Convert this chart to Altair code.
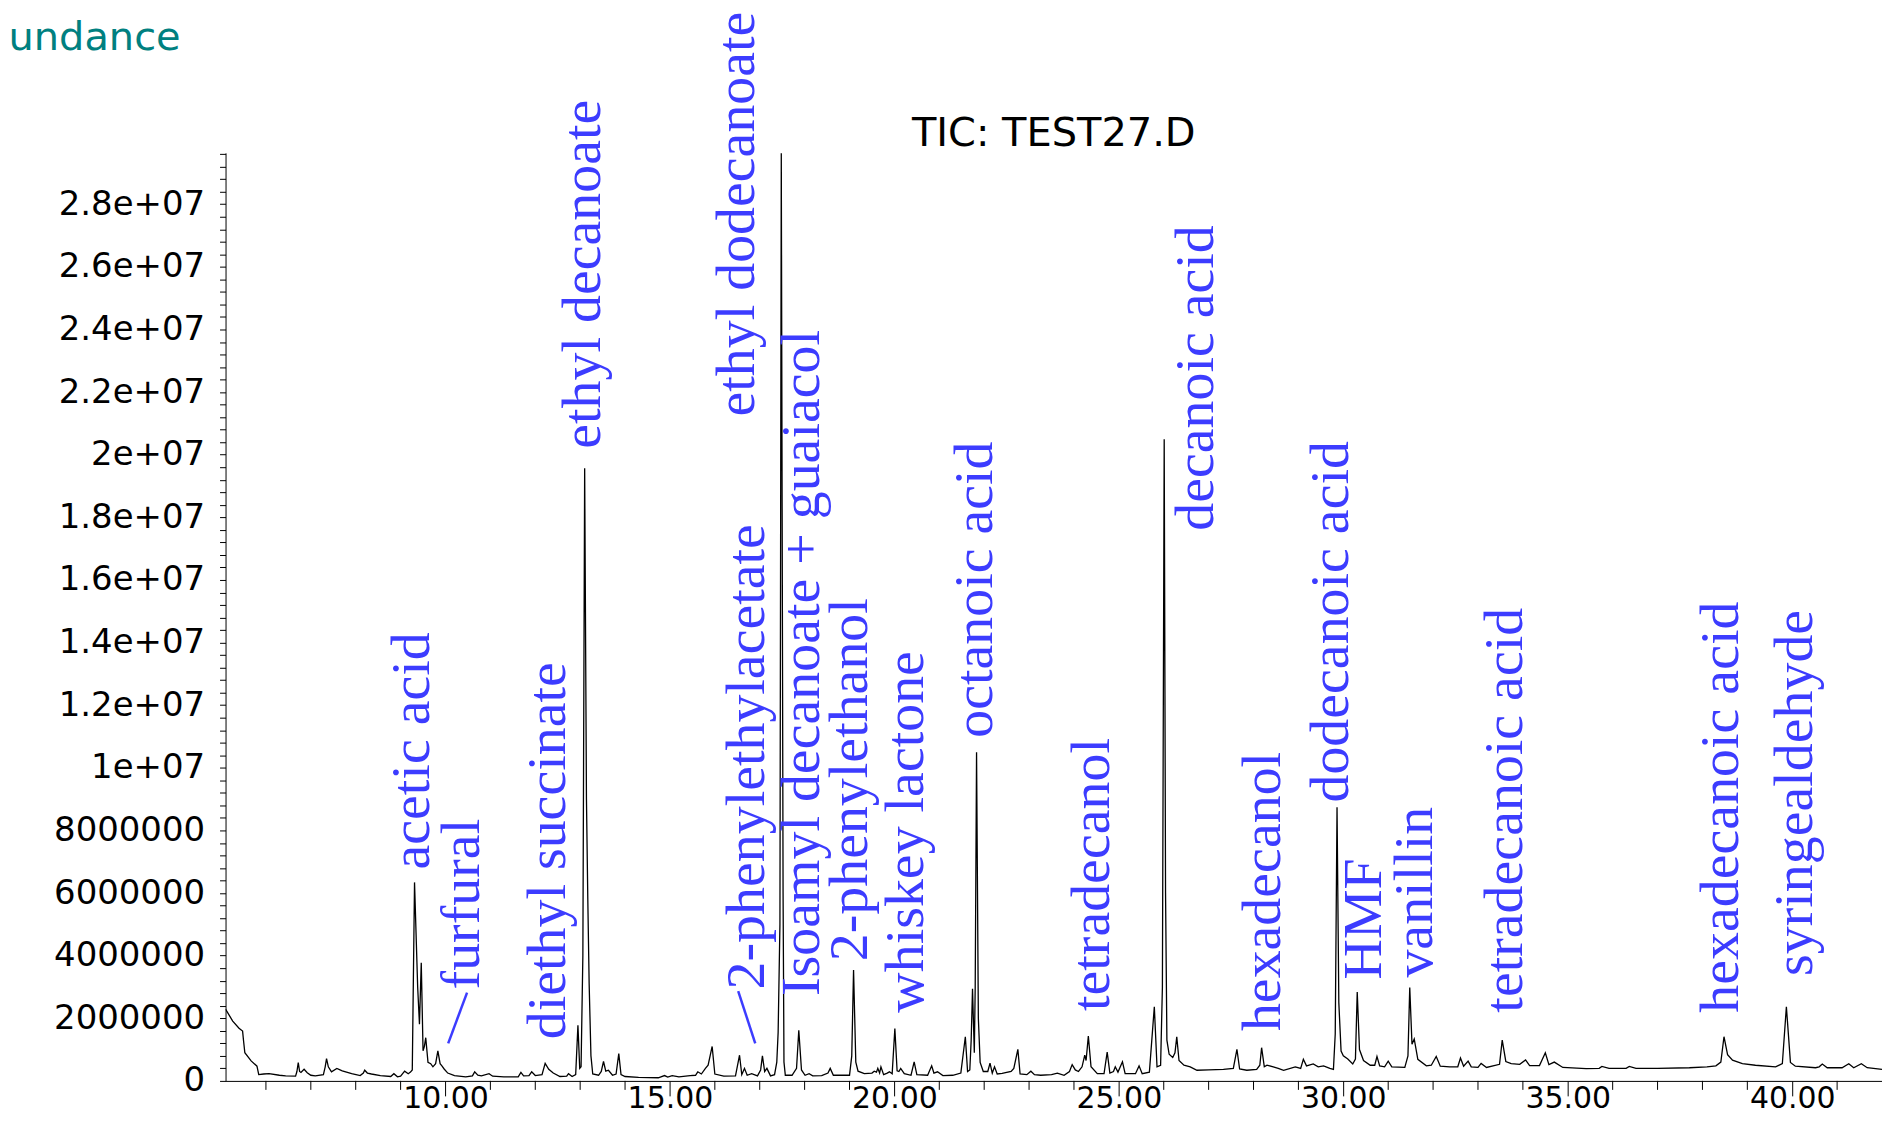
import altair as alt
import pandas as pd

# ---- chromatogram trace: retention time (min) and abundance (millions) ----
times = [
    5.10, 5.26, 5.40, 5.48, 5.50, 5.53, 5.67, 5.80, 5.84, 5.95, 6.07, 6.30, 6.44, 6.66, 6.69, 6.72,
    6.75, 6.78, 6.85, 6.92, 7.00, 7.10, 7.28, 7.32, 7.35, 7.39, 7.46, 7.58, 7.70, 7.91, 8.10, 8.17,
    8.20, 8.26, 8.35, 8.55, 8.78, 8.85, 8.93, 9.00, 9.09, 9.17, 9.22, 9.26, 9.31, 9.38, 9.42, 9.46,
    9.50, 9.53, 9.56, 9.61, 9.67, 9.72, 9.78, 9.83, 9.88, 9.92, 9.97, 10.05, 10.20, 10.45, 10.60, 10.65,
    10.72, 10.80, 10.97, 11.05, 11.30, 11.62, 11.68, 11.74, 11.86, 11.92, 12.00, 12.15, 12.22, 12.30, 12.40, 12.55,
    12.70, 12.74, 12.82, 12.90, 12.95, 12.99, 13.02, 13.06, 13.10, 13.14, 13.17, 13.20, 13.24, 13.28, 13.41, 13.47,
    13.52, 13.57, 13.63, 13.72, 13.80, 13.86, 13.91, 14.00, 14.30, 14.74, 14.88, 14.95, 15.05, 15.20, 15.45, 15.57,
    15.62, 15.70, 15.79, 15.85, 15.94, 16.00, 16.20, 16.46, 16.55, 16.60, 16.66, 16.72, 16.82, 16.95, 17.02, 17.06,
    17.11, 17.16, 17.24, 17.33, 17.38, 17.41, 17.45, 17.48, 17.52, 17.54, 17.57, 17.72, 17.82, 17.87, 17.93, 18.01,
    18.10, 18.18, 18.38, 18.52, 18.57, 18.64, 19.00, 19.05, 19.09, 19.14, 19.19, 19.33, 19.50, 19.55, 19.60, 19.63,
    19.67, 19.70, 19.76, 19.84, 19.89, 19.95, 20.01, 20.06, 20.10, 20.14, 20.22, 20.37, 20.44, 20.50, 20.74, 20.83,
    20.88, 20.96, 21.08, 21.30, 21.48, 21.58, 21.63, 21.68, 21.71, 21.74, 21.78, 21.80, 21.83, 21.87, 21.91, 21.98,
    22.08, 22.13, 22.18, 22.23, 22.29, 22.40, 22.60, 22.66, 22.75, 22.80, 22.95, 23.04, 23.12, 23.26, 23.50, 23.63,
    23.78, 23.90, 23.96, 24.03, 24.10, 24.18, 24.24, 24.27, 24.32, 24.38, 24.52, 24.67, 24.74, 24.80, 24.88, 24.92,
    24.98, 25.08, 25.14, 25.37, 25.45, 25.52, 25.68, 25.79, 25.85, 25.93, 25.97, 26.01, 26.04, 26.07, 26.12, 26.20,
    26.25, 26.29, 26.34, 26.45, 26.59, 26.74, 27.00, 27.33, 27.55, 27.63, 27.69, 27.85, 28.07, 28.14, 28.18, 28.24,
    28.30, 28.44, 28.55, 28.67, 28.93, 29.05, 29.11, 29.18, 29.33, 29.44, 29.56, 29.70, 29.78, 29.82, 29.86, 29.90,
    29.95, 30.00, 30.10, 30.21, 30.27, 30.31, 30.36, 30.45, 30.60, 30.70, 30.75, 30.81, 30.92, 31.00, 31.08, 31.37,
    31.44, 31.48, 31.53, 31.58, 31.66, 31.85, 31.96, 32.07, 32.16, 32.37, 32.55, 32.61, 32.68, 32.78, 32.85, 33.00,
    33.07, 33.19, 33.48, 33.54, 33.62, 33.74, 33.93, 34.06, 34.15, 34.37, 34.50, 34.58, 34.70, 34.89, 35.41, 35.70,
    35.76, 35.92, 36.30, 36.37, 36.52, 37.00, 37.71, 38.10, 38.30, 38.41, 38.48, 38.56, 38.67, 38.89, 39.18, 39.63,
    39.78, 39.87, 39.96, 40.07, 40.52, 40.60, 40.67, 40.78, 41.11, 41.26, 41.37, 41.54, 41.67, 42.00,
]
abund_millions = [
    2.29, 1.91, 1.68, 1.59, 1.30, 0.90, 0.64, 0.47, 0.20, 0.22, 0.23, 0.18, 0.16, 0.15, 0.30, 0.585,
    0.30, 0.27, 0.37, 0.26, 0.18, 0.16, 0.20, 0.45, 0.71, 0.45, 0.29, 0.40, 0.32, 0.23, 0.17, 0.25,
    0.34, 0.25, 0.22, 0.17, 0.14, 0.23, 0.13, 0.15, 0.31, 0.23, 0.28, 0.35, 6.34, 3.00, 1.81, 3.77,
    0.96, 1.10, 1.38, 0.59, 0.55, 0.45, 0.55, 0.96, 0.55, 0.48, 0.38, 0.25, 0.17, 0.13, 0.16, 0.29,
    0.18, 0.16, 0.23, 0.15, 0.13, 0.13, 0.27, 0.16, 0.17, 0.29, 0.17, 0.20, 0.56, 0.37, 0.25, 0.14,
    0.15, 0.23, 0.14, 0.20, 1.78, 0.40, 0.45, 4.00, 19.57, 9.00, 5.80, 3.10, 0.80, 0.22, 0.18, 0.30,
    0.62, 0.31, 0.34, 0.18, 0.22, 0.87, 0.20, 0.14, 0.11, 0.10, 0.17, 0.12, 0.17, 0.13, 0.17, 0.18,
    0.29, 0.22, 0.40, 0.50, 1.10, 0.22, 0.15, 0.16, 0.82, 0.20, 0.40, 0.18, 0.23, 0.16, 0.35, 0.80,
    0.30, 0.40, 0.16, 0.20, 0.60, 1.55, 5.00, 29.63, 6.00, 0.60, 0.18, 0.18, 0.40, 1.62, 0.35, 0.18,
    0.23, 0.16, 0.17, 0.25, 0.40, 0.18, 0.18, 0.80, 3.54, 0.60, 0.31, 0.23, 0.25, 0.31, 0.28, 0.40,
    0.25, 0.45, 0.20, 0.25, 0.29, 0.23, 1.67, 0.32, 0.30, 0.40, 0.23, 0.18, 0.61, 0.20, 0.18, 0.48,
    0.25, 0.29, 0.17, 0.18, 0.25, 1.41, 0.30, 0.35, 1.30, 2.94, 0.90, 3.00, 10.50, 2.00, 0.59, 0.30,
    0.30, 0.57, 0.25, 0.45, 0.22, 0.24, 0.30, 0.40, 1.01, 0.22, 0.20, 0.31, 0.20, 0.18, 0.20, 0.25,
    0.18, 0.30, 0.52, 0.35, 0.30, 0.45, 0.82, 0.65, 1.43, 0.45, 0.23, 0.23, 0.92, 0.25, 0.30, 0.45,
    0.28, 0.61, 0.23, 0.23, 0.48, 0.23, 0.28, 2.37, 0.45, 0.50, 3.00, 20.49, 6.00, 1.30, 0.85, 0.75,
    0.90, 1.41, 0.65, 0.50, 0.45, 0.34, 0.35, 0.37, 0.40, 1.01, 0.38, 0.34, 0.37, 0.50, 1.06, 0.45,
    0.50, 0.45, 0.40, 0.34, 0.45, 0.40, 0.69, 0.48, 0.54, 0.45, 0.48, 0.40, 0.37, 1.50, 8.74, 2.50,
    0.95, 0.80, 0.70, 0.54, 0.70, 2.84, 1.00, 0.65, 0.50, 0.50, 0.78, 0.48, 0.45, 0.63, 0.45, 0.43,
    0.80, 2.98, 1.17, 1.34, 0.69, 0.48, 0.50, 0.78, 0.47, 0.45, 0.45, 0.73, 0.47, 0.63, 0.45, 0.43,
    0.56, 0.43, 0.53, 1.30, 0.62, 0.55, 0.53, 0.67, 0.49, 0.49, 0.90, 0.52, 0.60, 0.43, 0.39, 0.40,
    0.46, 0.40, 0.40, 0.46, 0.40, 0.40, 0.42, 0.45, 0.48, 0.60, 1.41, 0.84, 0.66, 0.55, 0.50, 0.45,
    0.55, 2.37, 0.59, 0.47, 0.42, 0.45, 0.54, 0.42, 0.42, 0.55, 0.42, 0.55, 0.42, 0.37,
]

# ---- compound labels: text start anchor (time, abundance in millions) ----
label_names = [
    "acetic acid", "furfural", "diethyl succinate", "ethyl decanoate",
    "2-phenylethylacetate", "ethyl dodecanoate", "Isoamyl decanoate + guaiacol",
    "2-phenylethanol", "whiskey lactone", "octanoic acid", "tetradecanol",
    "decanoic acid", "hexadecanol", "dodecanoic acid", "HMF", "vanillin",
    "tetradecanoic acid", "hexadecanoic acid", "syringealdehyde",
]
label_times = [9.64, 10.74, 12.67, 13.44, 17.10, 16.87, 18.33, 19.40, 20.63, 22.17,
               24.78, 27.10, 28.58, 30.10, 30.85, 31.98, 33.98, 38.80, 40.44]
label_abund = [6.75, 2.92, 1.33, 20.19, 2.92, 21.22, 2.71, 3.82, 2.18, 10.96,
               2.23, 17.57, 1.59, 8.89, 3.24, 3.30, 2.18, 2.18, 3.35]

# leader lines (furfural, 2-phenylethylacetate)
leader_t1 = [10.06, 16.90]
leader_a1 = [1.20, 1.20]
leader_t2 = [10.48, 16.52]
leader_a2 = [2.82, 2.87]

# axis ticks
x_major = [10, 15, 20, 25, 30, 35, 40]
x_minor = [6, 7, 8, 9, 11, 12, 13, 14, 16, 17, 18, 19, 21, 22, 23, 24, 26, 27, 28, 29,
           31, 32, 33, 34, 36, 37, 38, 39, 41]
y_ticks = [k * 400000 for k in range(75)]

title_text = "TIC: TEST27.D"
ylabel_text = "undance"

BLUE = "#3c3cff"
W, H = 1660, 930

xs = alt.Scale(domain=[5.1, 42.0], nice=False, zero=False)
ys = alt.Scale(domain=[0, 2.964e7], nice=False, zero=True)

trace_df = pd.DataFrame({"t": times, "abundance": [v * 1e6 for v in abund_millions]})
label_df = pd.DataFrame({"name": label_names, "t": label_times,
                         "abundance": [v * 1e6 for v in label_abund]})
leader_df = pd.DataFrame({"t": leader_t1, "abundance": [v * 1e6 for v in leader_a1],
                          "t2": leader_t2, "abundance2": [v * 1e6 for v in leader_a2]})
minor_df = pd.DataFrame({"t": x_minor})
title_df = pd.DataFrame({"title": [title_text]})

label_expr = ("round(datum.value/400000) % 5 == 0 ? "
              "(datum.value < 10000000 ? format(datum.value, 'd') : "
              "replace(format(datum.value, '.2~e'), 'e+7', 'e+07')) : ''")

x_axis = alt.Axis(
    values=x_major, tickSize=15, format=".2f", labelFont="DejaVu Sans",
    labelFontSize=30, labelColor="black", labelBaseline="middle", labelPadding=3,
    labelFlush=False, labelOverlap=False, domainColor="black", tickColor="black",
    domainWidth=1, tickWidth=1, grid=False, title=None)
y_axis = alt.Axis(
    values=y_ticks, tickSize=6, labelExpr=label_expr, labelFont="DejaVu Sans",
    labelFontSize=34, labelColor="black", labelPadding=15, labelFlush=False,
    labelOverlap=False, domainColor="black", tickColor="black", domainWidth=1,
    tickWidth=1, grid=False, title=ylabel_text, titleAngle=0, titleAlign="left",
    titleBaseline="middle", titleX=-218, titleY=-116, titleFont="DejaVu Sans",
    titleFontSize=40, titleFontWeight="normal", titleColor="#008080")

trace = alt.Chart(trace_df).mark_line(color="black", strokeWidth=1.3, clip=True).encode(
    x=alt.X("t:Q", scale=xs, axis=x_axis),
    y=alt.Y("abundance:Q", scale=ys, axis=y_axis),
)

minor = alt.Chart(minor_df).mark_rule(color="black", strokeWidth=1).encode(
    x=alt.X("t:Q", scale=xs, axis=x_axis),
    y=alt.value(H), y2=alt.value(H + 9),
)

leaders = alt.Chart(leader_df).mark_rule(color=BLUE, strokeWidth=2.5).encode(
    x=alt.X("t:Q", scale=xs, axis=x_axis),
    y=alt.Y("abundance:Q", scale=ys, axis=y_axis),
    x2="t2:Q", y2="abundance2:Q",
)

labels = alt.Chart(label_df).mark_text(
    angle=270, align="left", baseline="alphabetic", font="Liberation Serif",
    fontSize=56, color=BLUE,
).encode(
    x=alt.X("t:Q", scale=xs, axis=x_axis),
    y=alt.Y("abundance:Q", scale=ys, axis=y_axis),
    text="name:N",
)

title = alt.Chart(title_df).mark_text(
    font="DejaVu Sans", fontSize=40, color="black", align="center", baseline="middle",
).encode(x=alt.value(W / 2), y=alt.value(-19), text="title:N")

chart = alt.layer(trace, minor, leaders, labels, title).properties(
    width=W, height=H,
    autosize=alt.AutoSizeParams(type="none"),
    padding={"left": 218, "top": 144, "right": 0, "bottom": 35},
    background="white",
).configure_view(stroke=None)

chart.save("out.html", embed_options={"renderer": "svg", "actions": False})
